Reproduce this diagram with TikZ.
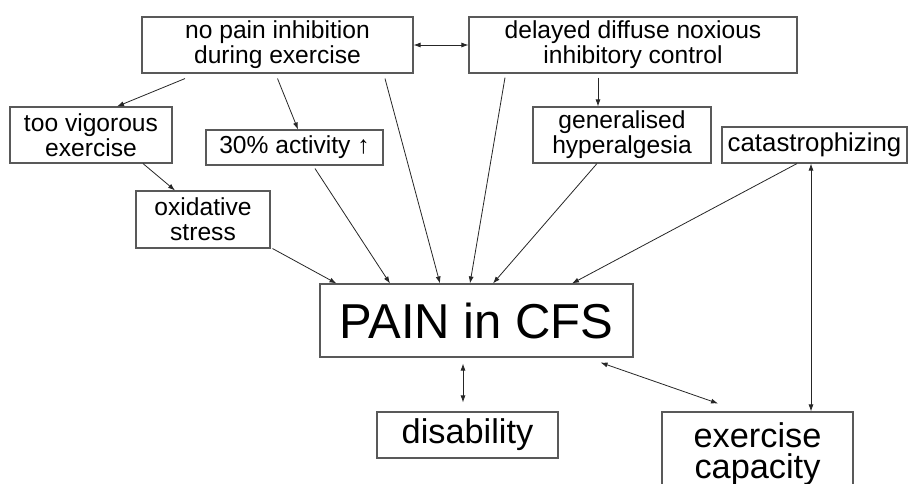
\documentclass[tikz,border=0pt]{standalone}
\usepackage{fontspec}
\setmainfont{Liberation Sans}
\usetikzlibrary{arrows.meta}

\newcommand{\boxfont}{\fontsize{24.6}{25}\selectfont}
\newcommand{\midfont}{\fontsize{34.3}{31}\selectfont}
\newcommand{\bigfont}{\fontsize{49}{50}\selectfont}

\tikzstyle{block} = [draw=black!65, line width=1.1pt, rectangle, align=center,
    inner sep=0pt, font=\boxfont]
\tikzstyle{link} = [draw=black!85, line width=0.8pt, -{Latex[length=7pt,width=5pt]}]
\tikzstyle{both} = [link, {Latex[length=7pt,width=5pt]}-{Latex[length=7pt,width=5pt]}]

\begin{document}
\begin{tikzpicture}[x=1pt, y=-1pt]
    \useasboundingbox (0,0) rectangle (908,483);
    % boxes
    \node [block, minimum width=271pt, minimum height=56pt] (nopain) at (277.5,45) {no pain inhibition\\during exercise};
    \node [block, minimum width=328pt, minimum height=56pt] (ddnic) at (633,45) {delayed diffuse noxious\\inhibitory control};
    \node [block, minimum width=162pt, minimum height=56pt] (vigorous) at (91,135) {too vigorous\\exercise};
    \node [block, minimum width=177pt, minimum height=35pt] (activity) at (294.5,147.5) {30\% activity ↑};
    \node [block, minimum width=134pt, minimum height=57pt] (oxidative) at (203,219.5) {oxidative\\stress};
    \node [block, minimum width=178pt, minimum height=56pt] (hyper) at (622,135) {generalised\\hyperalgesia};
    \node [block, minimum width=185pt, minimum height=36pt, font=\fontsize{25.8}{26}\selectfont] (catas) at (814.5,145) {catastrophizing};
    \node [block, minimum width=313pt, minimum height=73pt, font=\bigfont] (pain) at (476.5,320.5) {PAIN in CFS};
    \node [block, minimum width=181pt, minimum height=46pt, font=\midfont] (disab) at (467.5,435) {disability};
    \node [block, minimum width=191pt, minimum height=84pt, font=\midfont] (capacity) at (757.5,454) {exercise\\capacity};
    % connectors
    \draw [both] (nopain.east) -- (ddnic.west);
    \draw [link] ([xshift=-92.5pt,yshift=-5pt]nopain.south) -- ([xshift=26pt]vigorous.north);
    \draw [link] ([yshift=-5pt]nopain.south) -- ([xshift=3.5pt]activity.north);
    \draw [link] ([xshift=107.5pt,yshift=-5pt]nopain.south) -- ([xshift=-36.5pt]pain.north);
    \draw [link] ([xshift=-128pt,yshift=-4pt]ddnic.south) -- ([xshift=-6.5pt]pain.north);
    \draw [link] ([xshift=-35pt,yshift=-4pt]ddnic.south) -- ([xshift=-24pt]hyper.north);
    \draw [link] ([xshift=-25pt]hyper.south) -- ([xshift=16.5pt]pain.north);
    \draw [link] ([xshift=-17.5pt]catas.south) -- ([xshift=95.5pt]pain.north);
    \draw [both] ([xshift=-3.5pt]catas.south) -- ([xshift=53.5pt]capacity.north);
    \draw [link] ([xshift=52pt]vigorous.south) -- ([xshift=-28pt]oxidative.north);
    \draw [link] ([xshift=20.5pt,yshift=-3pt]activity.south) -- ([xshift=-86.5pt]pain.north);
    \draw [link] ([xshift=2pt]oxidative.south east) -- ([xshift=17pt]pain.north west);
    \draw [both] ([xshift=-13.5pt,yshift=-6pt]pain.south) -- ([xshift=-4.5pt,yshift=9pt]disab.north);
    \draw [both] ([xshift=-33pt,yshift=-5pt]pain.south east) -- ([xshift=-39.5pt,yshift=8pt]capacity.north);
\end{tikzpicture}
\end{document}
